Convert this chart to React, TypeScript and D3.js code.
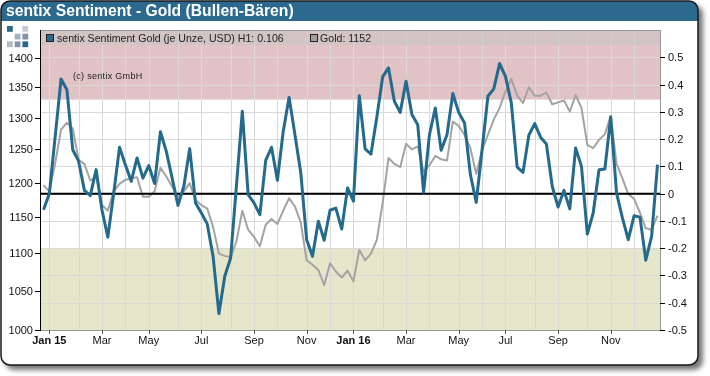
import React from 'react';
import * as d3 from 'd3';

// sentix sentiment (right axis), weekly
const sentiment = [
  -0.059, 0.0, 0.21, 0.42, 0.381, 0.161, 0.119, 0.012, -0.007, 0.088,
  -0.06, -0.16, 0.0, 0.17, 0.106, 0.045, 0.131, 0.057, 0.103, 0.037,
  0.227, 0.155, 0.057, -0.043, 0.027, 0.165, -0.034, -0.071, -0.111, -0.23,
  -0.44, -0.303, -0.236, 0.03, 0.302, -0.004, -0.034, -0.077, 0.122, 0.17,
  0.049, 0.229, 0.353, 0.216, 0.076, -0.169, -0.23, -0.101, -0.171, -0.061,
  -0.053, -0.13, 0.021, -0.028, 0.359, 0.164, 0.145, 0.28, 0.428, 0.461,
  0.339, 0.298, 0.412, 0.29, 0.253, 0.005, 0.216, 0.314, 0.159, 0.216,
  0.367, 0.298, 0.259, 0.07, -0.032, 0.16, 0.357, 0.384, 0.477, 0.43,
  0.333, 0.097, 0.078, 0.214, 0.257, 0.207, 0.182, 0.027, -0.049, 0.012,
  -0.056, 0.167, 0.1, -0.148, -0.071, 0.088, 0.09, 0.281, 0.002, -0.089,
  -0.169, -0.081, -0.086, -0.244, -0.156, 0.106,
];

// gold price (left axis, log), weekly
const gold = [
  1196, 1187, 1229, 1281, 1292, 1283, 1234, 1228, 1203, 1209,
  1167, 1159, 1187, 1198, 1204, 1206, 1208, 1179, 1179, 1187,
  1222, 1209, 1194, 1179, 1187, 1199, 1174, 1167, 1162, 1136,
  1099, 1096, 1094, 1116, 1159, 1132, 1122, 1109, 1139, 1147,
  1140, 1159, 1177, 1165, 1142, 1090, 1084, 1077, 1057, 1086,
  1075, 1067, 1076, 1062, 1104, 1090, 1099, 1118, 1170, 1237,
  1228, 1223, 1259, 1250, 1255, 1216, 1226, 1240, 1235, 1233,
  1294, 1287, 1273, 1252, 1213, 1249, 1273, 1297, 1316, 1343,
  1364, 1336, 1324, 1350, 1336, 1336, 1341, 1322, 1325, 1328,
  1310, 1337, 1316, 1257, 1252, 1265, 1274, 1303, 1228, 1206,
  1183, 1176, 1156, 1134, 1132, 1152,
];

const startDate = new Date(2014, 11, 26); // first weekly observation (Friday)
const leftTicks = [1000, 1050, 1100, 1150, 1200, 1250, 1300, 1350, 1400];
const rightTicks = [-0.5, -0.4, -0.3, -0.2, -0.1, 0, 0.1, 0.2, 0.3, 0.4, 0.5];
const monthNames = ['Jan', 'Feb', 'Mar', 'Apr', 'May', 'Jun', 'Jul', 'Aug', 'Sep', 'Oct', 'Nov', 'Dec'];
const bullThreshold = 0.345;
const bearThreshold = -0.2;
const titleText = 'sentix Sentiment - Gold (Bullen-Bären)';
const legendSentiment = 'sentix Sentiment Gold (je Unze, USD) H1: 0.106';
const legendGold = 'Gold: 1152';
const copyright = '(c) sentix GmbH';

const FONT = '"Liberation Sans", Arial, Helvetica, sans-serif';
const L = 40, R = 660, T = 30, B = 330;

export default function App() {
  const dates = sentiment.map((_, i) => d3.timeDay.offset(startDate, 7 * i));
  const x = d3.scaleLinear().domain([0, sentiment.length - 1]).range([43.5, 657.5]);
  const yR = d3.scaleLinear().domain([-0.5, 0.6]).range([B, T]);
  const yL = d3.scaleLog().domain([1000, 1449]).range([B, T]);

  const monthIdx = dates
    .map((d, i) => (i > 0 && d.getMonth() !== dates[i - 1].getMonth() ? i : -1))
    .filter((i) => i >= 0);

  const lineS = d3.line<number>().x((_, i) => x(i)).y((d) => yR(d));
  const lineG = d3.line<number>().x((_, i) => x(i)).y((d) => yL(d));
  const crisp = (v: number) => Math.round(v) + 0.5;

  const logo = [
    { c: 0, r: 0, f: '#2a6890' },
    { c: 2, r: 0, f: '#c3ccd5' },
    { c: 1, r: 1, f: '#a4b1be' },
    { c: 2, r: 1, f: '#8494a5' },
    { c: 0, r: 2, f: '#aebac6' },
    { c: 1, r: 2, f: '#8494a5' },
    { c: 2, r: 2, f: '#2a6890' },
  ];

  return (
    <svg
      width={710}
      height={376}
      style={{ position: 'fixed', left: 0, top: 0, fontFamily: FONT }}
    >
      <defs>
        <filter id="sh" x="-10%" y="-10%" width="130%" height="130%">
          <feGaussianBlur stdDeviation="2.5" />
        </filter>
        <clipPath id="frameClip">
          <rect x={1} y={1} width={697} height={364} rx={9} ry={9} />
        </clipPath>
        <clipPath id="plotClip">
          <rect x={L} y={T} width={R - L} height={B - T} />
        </clipPath>
      </defs>
      {/* frame shadow */}
      <rect x={5} y={5} width={698} height={365} rx={9} ry={9} fill="#777" filter="url(#sh)" />
      <rect x={1} y={1} width={697} height={364} rx={9} ry={9} fill="#fff" />
      <g clipPath="url(#frameClip)">
        <rect x={0} y={0} width={710} height={21} fill="#2b6a8e" />
      </g>
      <rect x={1} y={1} width={697} height={364} rx={9} ry={9} fill="none" stroke="#1a1a1a" strokeWidth={1.5} />
      <text x={6} y={16} fill="#fff" fontWeight="bold" fontSize={15.7}>
        {titleText}
      </text>

      {/* logo */}
      {logo.map((s, k) => (
        <rect key={k} x={7 + s.c * 7.7} y={26 + s.r * 7.7} width={5.8} height={5.8} fill={s.f} />
      ))}

      {/* bands */}
      <rect x={L} y={T} width={R - L} height={yR(bullThreshold) - T} fill="#e1c2c5" />
      <rect x={L} y={yR(bearThreshold)} width={R - L} height={B - yR(bearThreshold)} fill="#e6e6cb" />

      {/* grid */}
      <g stroke="#d9d9d9" strokeWidth={1}>
        {rightTicks.slice(1).map((v) => (
          <line key={'h' + v} x1={L} x2={R} y1={crisp(yR(v))} y2={crisp(yR(v))} />
        ))}
        {monthIdx.map((i) => (
          <line key={'v' + i} x1={crisp(x(i))} x2={crisp(x(i))} y1={T} y2={B} />
        ))}
      </g>

      {/* legend band */}
      <rect x={L} y={T} width={R - L} height={15} fill="#c4c4c4" opacity={0.5} />
      <rect x={46.5} y={34.5} width={7} height={7} fill="#2a6890" stroke="#222" strokeWidth={1} />
      <text x={57} y={42} fontSize={10.6} fill="#222">
        {legendSentiment}
      </text>
      <rect x={310.5} y={34.5} width={7} height={7} fill="#a0a0a0" stroke="#222" strokeWidth={1} />
      <text x={320} y={42} fontSize={10.6} fill="#222">
        {legendGold}
      </text>
      <text x={73} y={79} fontSize={9} fill="#222" letterSpacing={0.3}>
        {copyright}
      </text>

      {/* series */}
      <g clipPath="url(#plotClip)">
        <path d={lineG(gold) || ''} fill="none" stroke="#a3a3a3" strokeWidth={2} strokeLinejoin="round" />
        <line x1={L} x2={R} y1={yR(0)} y2={yR(0)} stroke="#000" strokeWidth={2} />
        <path d={lineS(sentiment) || ''} fill="none" stroke="#246a8c" strokeWidth={3} strokeLinejoin="round" />
      </g>

      {/* plot border */}
      <line x1={L} x2={R} y1={T + 0.5} y2={T + 0.5} stroke="#999" />
      <line x1={R + 0.5} x2={R + 0.5} y1={T} y2={B} stroke="#999" />
      <line x1={L} x2={R} y1={B + 0.5} y2={B + 0.5} stroke="#999" />
      <line x1={L + 0.5} x2={L + 0.5} y1={T} y2={B + 1} stroke="#000" />

      {/* left axis */}
      {leftTicks.map((v) => (
        <g key={'l' + v}>
          <line x1={35} x2={L} y1={crisp(yL(v))} y2={crisp(yL(v))} stroke="#000" />
          <text x={33} y={yL(v) + 4} textAnchor="end" fontSize={11} fill="#111">
            {v}
          </text>
        </g>
      ))}

      {/* right axis */}
      {rightTicks.map((v) => (
        <g key={'r' + v}>
          <line x1={R} x2={R + 5} y1={crisp(yR(v))} y2={crisp(yR(v))} stroke="#000" />
          <text x={668} y={yR(v) + 4} fontSize={11} fill="#111">
            {v === 0 ? '0' : String(v)}
          </text>
        </g>
      ))}

      {/* bottom axis */}
      {monthIdx
        .filter((i) => dates[i].getMonth() % 2 === 0)
        .map((i) => {
          const d = dates[i];
          const isJan = d.getMonth() === 0;
          const label = isJan
            ? `${monthNames[0]} ${String(d.getFullYear()).slice(2)}`
            : monthNames[d.getMonth()];
          return (
            <g key={'b' + i}>
              <line x1={crisp(x(i))} x2={crisp(x(i))} y1={B} y2={B + 4} stroke="#555" />
              <text
                x={x(i)}
                y={344}
                textAnchor="middle"
                fontSize={11}
                fontWeight={isJan ? 'bold' : 'normal'}
                fill="#111"
              >
                {label}
              </text>
            </g>
          );
        })}
    </svg>
  );
}
